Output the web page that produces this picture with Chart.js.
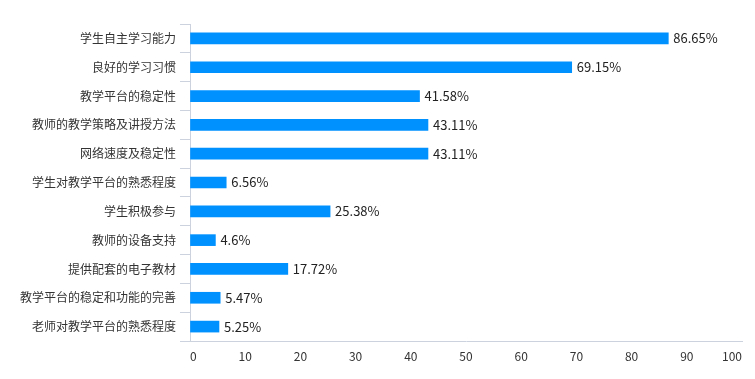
<!DOCTYPE html>
<html>
<head>
<meta charset="utf-8">
<script src="https://cdn.jsdelivr.net/npm/chart.js@4/dist/chart.umd.min.js"></script>
<style>
html,body{margin:0;padding:0;background:#fff;}
#wrap{width:755px;height:379px;position:relative;}
</style>
</head>
<body>
<div id="wrap"><canvas id="c" width="755" height="379"></canvas></div>
<script>
const categories = ["学生自主学习能力","良好的学习习惯","教学平台的稳定性","教师的教学策略及讲授方法","网络速度及稳定性","学生对教学平台的熟悉程度","学生积极参与","教师的设备支持","提供配套的电子教材","教学平台的稳定和功能的完善","老师对教学平台的熟悉程度"];
const values = [86.65, 69.15, 41.58, 43.11, 43.11, 6.56, 25.38, 4.6, 17.72, 5.47, 5.25];
const xTicks = [0,10,20,30,40,50,60,70,80,90,100];

const FONT = '"Microsoft YaHei", "Noto Sans CJK SC", sans-serif';
const axisColor = '#ccd3df';

const valueLabels = {
  id: 'valueLabels',
  afterDatasetsDraw(chart) {
    const ctx = chart.ctx;
    const meta = chart.getDatasetMeta(0);
    ctx.save();
    ctx.font = '13px ' + FONT;
    ctx.fillStyle = '#222';
    ctx.textAlign = 'left';
    ctx.textBaseline = 'middle';
    meta.data.forEach((bar, i) => {
      ctx.fillText(values[i] + '%', bar.x + 5, bar.y);
    });
    ctx.restore();
  }
};

new Chart(document.getElementById('c'), {
  type: 'bar',
  data: {
    labels: categories,
    datasets: [{
      data: values,
      backgroundColor: '#0091ff',
      barThickness: 11,
      borderWidth: 0
    }]
  },
  options: {
    indexAxis: 'y',
    responsive: false,
    animation: false,
    devicePixelRatio: 1,
    layout: { padding: { top: 24, right: 13, bottom: 0, left: 0 } },
    plugins: { legend: { display: false }, tooltip: { enabled: false } },
    scales: {
      x: {
        min: 0, max: 100,
        afterBuildTicks: s => { s.ticks = xTicks.map(v => ({ value: v })); },
        afterFit: s => { s.height = 38; },
        grid: { display: true, drawOnChartArea: false, drawTicks: false, color: axisColor },
        border: { display: true, color: axisColor },
        ticks: { padding: 8, align: 'inner', color: '#333', font: { size: 12, family: FONT } }
      },
      y: {
        afterFit: s => { s.width = 190; },
        grid: { display: true, offset: true, drawOnChartArea: false, drawTicks: true, tickLength: 10, color: axisColor },
        border: { display: true, color: axisColor },
        ticks: { padding: 4, color: '#333', font: { size: 12, family: FONT } }
      }
    }
  },
  plugins: [valueLabels]
});
</script>
</body>
</html>
